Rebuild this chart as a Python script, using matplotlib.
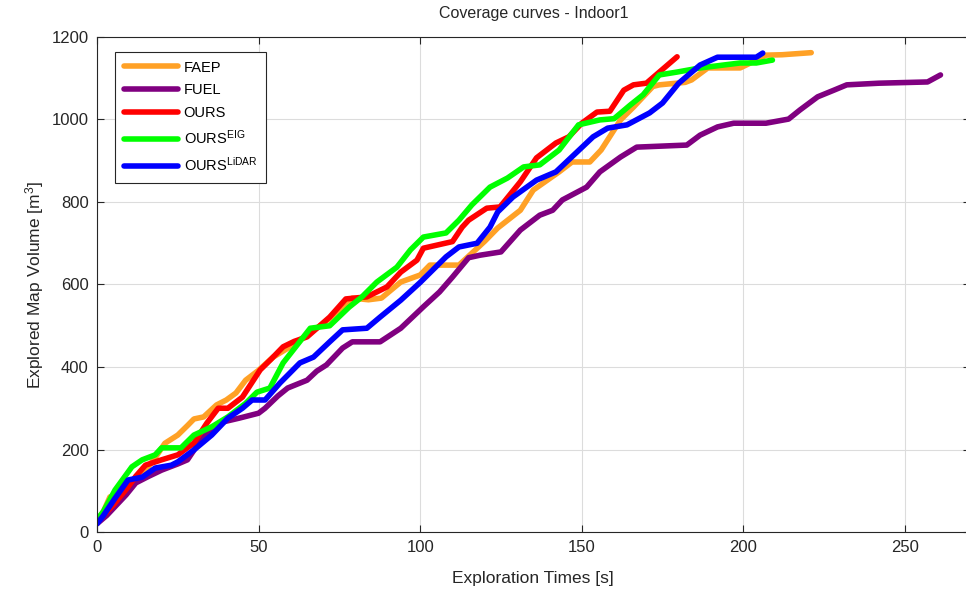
import matplotlib.pyplot as plt
import numpy as np

plt.rcParams['font.family'] = ['Liberation Sans', 'DejaVu Sans']
plt.rcParams['mathtext.default'] = 'regular'

# FAEP
t_faep = [0, 2, 4, 6, 9, 12, 15, 18, 21, 25, 28, 30, 33, 37, 40, 43, 46, 50, 54.5, 60, 65, 70, 75, 79, 84, 88,
          94, 100, 103, 112, 116, 120, 124, 131, 135, 143, 147, 152.5, 156, 162, 166, 172, 174, 182, 184, 189,
          199, 203, 207, 212, 221]
v_faep = [25, 50, 85, 90, 100, 125, 150, 180, 215, 235, 258, 274, 279, 308, 320, 337, 368, 392, 424, 450, 478,
          505, 538, 567, 563, 567, 606, 623, 647, 647, 676, 705, 737, 780, 829, 873, 897, 897, 926, 999, 1030,
          1080, 1084, 1090, 1096, 1125, 1125, 1140, 1156, 1157, 1162]

# FUEL
t_fuel = [0, 3, 6, 9, 12, 16, 20, 25, 28, 31, 34, 38, 44, 50, 52, 56, 59, 65, 68, 71, 76, 79, 87.6, 94, 101,
          106, 110, 115, 118.5, 125, 131, 137, 141, 144, 151.5, 155.6, 162, 167, 182.5, 186.6, 192, 197, 207,
          214, 217.5, 223, 228, 232, 242, 257, 261]
v_fuel = [20, 40, 65, 90, 119, 135, 150, 165, 175, 210, 240, 265, 276, 288, 300, 330, 349, 368, 390, 405, 446,
          461, 461, 494, 546, 582, 618, 665, 671, 679, 732, 768, 780, 805, 836, 873, 909, 933, 938, 962, 982,
          991, 991, 1001, 1023, 1055, 1071, 1084, 1088, 1091, 1108]

# OURS
t_ours = [0, 1.5, 5, 9.6, 12, 15, 20, 25, 30, 34, 37.5, 40.5, 45, 50.5, 54, 57.6, 61, 65, 72, 77, 83.5, 89.7,
          94, 99, 101, 110, 113, 115, 120.6, 124.7, 131, 136, 142, 146, 150, 154.7, 158.7, 163, 166, 170, 179.5]
v_ours = [25, 36, 65, 109, 135, 162, 175, 187, 216, 264, 300, 300, 327, 393, 420, 449, 462, 473, 521, 565, 570,
          594, 630, 659, 688, 704, 739, 756, 785, 788, 849, 907, 943, 958, 991, 1018, 1020, 1071, 1084, 1088, 1152]

# OURS^EIG
t_eig = [0, 2, 5.6, 10.8, 14, 18, 20, 26, 30, 35.5, 40.5, 46, 49.5, 53.5, 57.6, 60.7, 66, 72, 78, 82, 86.6,
         92.8, 97, 101, 108, 112, 116, 121.6, 127, 132, 137, 143, 149, 155.6, 160, 165, 169, 174, 179.5, 186.6,
         199, 204, 209]
v_eig = [30, 50, 102, 158, 175, 187, 204, 204, 235, 255, 279, 312, 339, 349, 410, 441, 494, 500, 545, 570, 606,
         642, 684, 715, 725, 756, 793, 836, 858, 885, 890, 926, 987, 999, 1002, 1035, 1060, 1108, 1115, 1125,
         1137, 1137, 1144]

# OURS^LiDAR
t_lidar = [0, 2, 5.6, 9.6, 14, 18, 23, 25, 30, 35.5, 40.5, 45, 48, 52, 56.6, 62.8, 67, 72, 76, 83.5, 87.6, 94,
           100, 108, 112, 117.6, 121.6, 124, 128.7, 136, 142, 148.5, 153.5, 158, 164, 171, 175, 180, 186.6, 192,
           204, 206]
v_lidar = [20, 40, 82, 126, 133, 155, 162, 170, 199, 235, 276, 300, 320, 320, 361, 410, 424, 461, 490, 494, 521,
           562, 605, 667, 691, 700, 739, 776, 812, 853, 873, 921, 958, 979, 987, 1016, 1040, 1088, 1132, 1151,
           1151, 1161]

labels = ['FAEP', 'FUEL', 'OURS', 'OURS$^{EIG}$', 'OURS$^{LiDAR}$']
colors = ['#FFA126', '#800080', '#FF0000', '#00FF00', '#0000FF']

fig = plt.figure(figsize=(9.66, 5.9), dpi=100)
ax = fig.add_axes([0.1004, 0.0983, 0.9033, 0.839])

series = [(t_faep, v_faep), (t_fuel, v_fuel), (t_ours, v_ours), (t_eig, v_eig), (t_lidar, v_lidar)]
for (t, v), lab, c in zip(series, labels, colors):
    ax.plot(t, v, color=c, linewidth=4, label=lab, solid_capstyle='round', solid_joinstyle='round')

ax.set_xlim(0, 270)
ax.set_ylim(0, 1200)
ax.set_xticks([0, 50, 100, 150, 200, 250])
ax.set_yticks(np.arange(0, 1201, 200))
ax.grid(True, color='#dcdcdc', linewidth=0.8)
ax.set_axisbelow(True)
ax.tick_params(direction='in', top=True, right=True, length=5, labelsize=12,
               colors='#262626', pad=6)
for s in ax.spines.values():
    s.set_color('#262626')
    s.set_linewidth(0.8)

ax.set_title('Coverage curves - Indoor1', fontsize=11.5, color='#262626', pad=14)
ax.set_xlabel('Exploration Times [s]', fontsize=12.5, color='#262626', labelpad=11)
ax.set_ylabel('Explored Map Volume [m$^3$]', fontsize=12.5, color='#262626', labelpad=4)

leg = ax.legend(loc='upper left', bbox_to_anchor=(0.0206, 0.97), borderaxespad=0, fancybox=False,
                framealpha=1, edgecolor='#262626', fontsize=10.5, handlelength=3.7, handletextpad=0.4,
                labelspacing=0.6, borderpad=0.6)
leg.get_frame().set_linewidth(0.8)

fig.savefig('out.png', dpi=100)
